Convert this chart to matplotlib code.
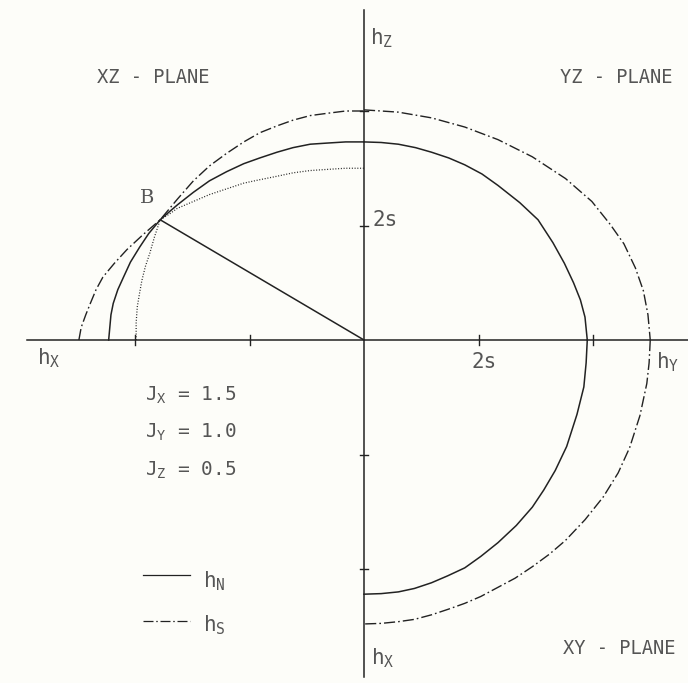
import matplotlib
matplotlib.use("Agg")
import matplotlib.pyplot as plt

# spin-flop boundary curves in the three coordinate planes (field in units of the tick spacing)
# XZ plane: h_x to the left (negative), h_z up
xz_s_x = [-2.49, -2.47, -2.43, -2.39, -2.34, -2.28, -2.18, -2.07, -1.93, -1.78,
          -1.63, -1.49, -1.35, -1.20, -1.05, -0.91, -0.76, -0.62, -0.47, -0.32, -0.16, 0.0]
xz_s_z = [0.0, 0.11, 0.22, 0.32, 0.44, 0.55, 0.67, 0.79, 0.92, 1.05,
          1.23, 1.39, 1.52, 1.63, 1.73, 1.81, 1.87, 1.92, 1.96, 1.98, 2.00, 2.00]
xz_n_x = [-2.23, -2.22, -2.21, -2.19, -2.15, -2.10, -2.04, -1.96, -1.88, -1.78, -1.70,
          -1.63, -1.49, -1.35, -1.20, -1.05, -0.91, -0.76, -0.62, -0.47, -0.32, -0.16, 0.0]
xz_n_z = [0.0, 0.11, 0.22, 0.32, 0.44, 0.55, 0.68, 0.81, 0.93, 1.05, 1.12,
          1.18, 1.29, 1.39, 1.47, 1.54, 1.59, 1.64, 1.68, 1.71, 1.72, 1.73, 1.73]
xz_dot_x = [-1.99, -1.99, -1.98, -1.96, -1.94, -1.91, -1.87, -1.83, -1.78, -1.70, -1.63,
            -1.49, -1.35, -1.20, -1.05, -0.91, -0.76, -0.62, -0.47, -0.32, -0.16, 0.0]
xz_dot_z = [0.0, 0.15, 0.29, 0.41, 0.52, 0.64, 0.76, 0.90, 1.05, 1.10, 1.15,
            1.21, 1.27, 1.32, 1.37, 1.40, 1.43, 1.46, 1.48, 1.49, 1.50, 1.50]

# YZ plane: h_y to the right, h_z up
yz_n_y = [0.0, 0.15, 0.30, 0.45, 0.59, 0.74, 0.88, 1.03, 1.17, 1.36, 1.52, 1.65, 1.75, 1.83, 1.89, 1.93, 1.95]
yz_n_z = [1.73, 1.725, 1.71, 1.68, 1.64, 1.59, 1.53, 1.45, 1.35, 1.20, 1.05, 0.85, 0.67, 0.50, 0.35, 0.20, 0.0]
yz_s_y = [0.0, 0.30, 0.59, 0.88, 1.17, 1.47, 1.76, 1.99, 2.15, 2.27, 2.37, 2.44, 2.48, 2.50]
yz_s_z = [2.01, 1.99, 1.94, 1.86, 1.75, 1.60, 1.41, 1.21, 1.01, 0.84, 0.63, 0.43, 0.22, 0.0]

# XY plane: h_y to the right, h_x downwards
xy_n_y = [1.95, 1.94, 1.92, 1.86, 1.77, 1.67, 1.57, 1.47, 1.33, 1.17, 1.02, 0.88, 0.73, 0.59, 0.44, 0.30, 0.15, 0.0]
xy_n_x = [0.0, -0.20, -0.41, -0.65, -0.93, -1.14, -1.31, -1.46, -1.62, -1.77, -1.89, -1.99, -2.06, -2.12, -2.17, -2.20, -2.215, -2.22]
xy_s_y = [2.50, 2.49, 2.47, 2.41, 2.32, 2.22, 2.09, 1.93, 1.76, 1.62, 1.47, 1.32, 1.17, 1.02, 0.88, 0.74, 0.59, 0.44, 0.30, 0.15, 0.0]
xy_s_x = [0.0, -0.20, -0.38, -0.66, -0.94, -1.16, -1.37, -1.57, -1.75, -1.87, -1.98, -2.08, -2.16, -2.24, -2.30, -2.35, -2.40, -2.44, -2.46, -2.475, -2.48]

point_b = (-1.78, 1.05)
ticks = [-2, -1, 1, 2]
anisotropy = [("X", "1.5"), ("Y", "1.0"), ("Z", "0.5")]

ink = "#222222"
txt = "#555555"
dashdot = (0, (8, 2.2, 1.2, 2.2))
dotted = (0, (0.8, 1.4))

plt.rcParams["mathtext.fontset"] = "custom"
plt.rcParams["mathtext.rm"] = "DejaVu Sans Mono"
plt.rcParams["mathtext.it"] = "DejaVu Sans Mono"
plt.rcParams["font.family"] = "DejaVu Sans Mono"

fig = plt.figure(figsize=(6.88, 6.83), dpi=100, facecolor="#fdfdf9")
ax = fig.add_axes([0, 0, 1, 1])
ax.set_facecolor("#fdfdf9")
ax.set_xlim(-364 / 114.5, 324 / 114.5)
ax.set_ylim(-343 / 114.5, 340 / 114.5)
ax.axis("off")

# coordinate axes and tick marks
ax.plot([-2.94, 2.9], [0, 0], color=ink, lw=1.1)
ax.plot([0, 0], [2.88, -2.94], color=ink, lw=1.1)
for t in ticks:
    ax.plot([t, t], [-0.04, 0.04], color=ink, lw=1.0)
    ax.plot([-0.035, 0.035], [t, t], color=ink, lw=1.0)

# curves
ax.plot(xz_n_x, xz_n_z, color=ink, lw=1.1)
ax.plot(yz_n_y, yz_n_z, color=ink, lw=1.1)
ax.plot(xy_n_y, xy_n_x, color=ink, lw=1.1)
ax.plot(xz_s_x, xz_s_z, color=ink, lw=1.0, linestyle=dashdot)
ax.plot(yz_s_y, yz_s_z, color=ink, lw=1.0, linestyle=dashdot)
ax.plot(xy_s_y, xy_s_x, color=ink, lw=1.0, linestyle=dashdot)
ax.plot(xz_dot_x, xz_dot_z, color=ink, lw=0.9, linestyle=dotted)
ax.plot([point_b[0], 0], [point_b[1], 0], color=ink, lw=1.1)

ax.text(point_b[0] - 0.11, point_b[1] + 0.19, "B", fontsize=14, color=txt,
        family="DejaVu Serif", ha="center", va="center")

# plane names
ax.text(-2.33, 2.29, "XZ - PLANE", fontsize=13.5, color=txt, va="center")
ax.text(1.71, 2.29, "YZ - PLANE", fontsize=13.5, color=txt, va="center")
ax.text(1.74, -2.69, "XY - PLANE", fontsize=13.5, color=txt, va="center")

# axis labels
ax.text(0.05, 2.64, r"h$_\mathrm{Z}$", fontsize=15, color=txt, va="center")
ax.text(0.06, -2.78, r"h$_\mathrm{X}$", fontsize=15, color=txt, va="center")
ax.text(-2.86, -0.16, r"h$_\mathrm{X}$", fontsize=15, color=txt, va="center")
ax.text(2.55, -0.19, r"h$_\mathrm{Y}$", fontsize=15, color=txt, va="center")
ax.text(1.05, -0.19, "2s", fontsize=15, color=txt, ha="center", va="center")
ax.text(0.07, 1.05, "2s", fontsize=15, color=txt, va="center")

for i, (axis_name, value) in enumerate(anisotropy):
    ax.text(-1.91, -0.48 - 0.33 * i, r"J$_\mathrm{%s}$ = %s" % (axis_name, value),
            fontsize=14, color=txt, va="center")

# legend
ax.plot([-1.93, -1.52], [-2.05, -2.05], color=ink, lw=0.9)
ax.text(-1.41, -2.11, r"h$_\mathrm{N}$", fontsize=15, color=txt, va="center")
ax.plot([-1.93, -1.52], [-2.45, -2.45], color=ink, lw=0.9, linestyle=dashdot)
ax.text(-1.41, -2.49, r"h$_\mathrm{S}$", fontsize=15, color=txt, va="center")

fig.savefig("out.png", dpi=100, facecolor=fig.get_facecolor())
